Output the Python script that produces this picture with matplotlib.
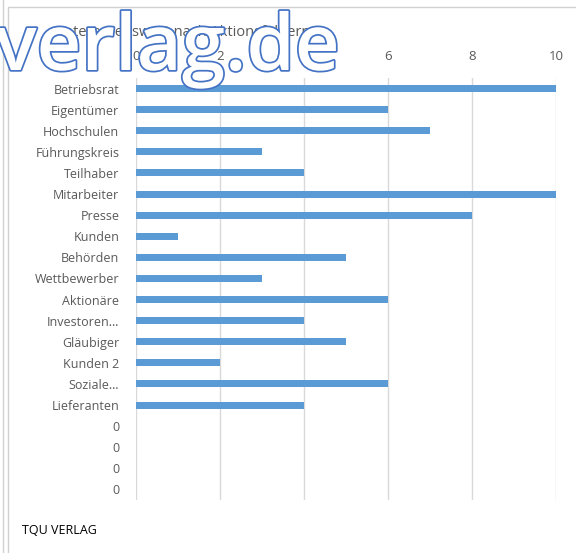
import matplotlib
matplotlib.use("Agg")
import matplotlib.pyplot as plt
import matplotlib.patheffects as pe
from matplotlib.patches import Rectangle

# Daten aus dem Diagramm
kategorien = ["Betriebsrat", "Eigentümer", "Hochschulen", "Führungskreis", "Teilhaber",
              "Mitarbeiter", "Presse", "Kunden", "Behörden", "Wettbewerber", "Aktionäre",
              "Investoren…", "Gläubiger", "Kunden 2", "Soziale…", "Lieferanten",
              "0", "0", "0", "0"]
werte = [10, 6, 7, 3, 4, 10, 8, 1, 5, 3, 6, 4, 5, 2, 6, 4, 0, 0, 0, 0]
x_ticks = [0, 2, 4, 6, 8, 10]

titel = "Interessenswert nach Aktionsfeldern"
fusszeile = "TQU VERLAG"
wasserzeichen = "verlag.de"

plt.rcParams["font.family"] = ["Open Sans", "DejaVu Sans"]

W, H = 576, 553
fig = plt.figure(figsize=(W / 100, H / 100), dpi=100)

# Rahmen um das Diagramm
fig.patches.append(Rectangle((8 / W, -0.1), 1.2, 1 - 7 / H + 0.1, transform=fig.transFigure,
                             fill=False, edgecolor="#d0d0d0", linewidth=1.0))
fig.add_artist(plt.Line2D([3 / W, 3 / W], [0, 1], transform=fig.transFigure,
                          color="#d0d0d0", linewidth=1.0))

ax = fig.add_axes([136 / W, 1 - 500 / H, 420 / W, 422 / H])
y = list(range(len(kategorien)))
ax.barh(y, werte, height=0.33, color="#5b9bd5", zorder=3)
ax.set_ylim(len(kategorien) - 0.5, -0.5)
ax.set_xlim(0, 10)
ax.set_xticks(x_ticks)
ax.set_yticks(y)
ax.set_yticklabels(kategorien)
ax.xaxis.tick_top()
ax.tick_params(axis="x", length=0, pad=10.5, labelsize=9.5, labelcolor="#595959")
ax.tick_params(axis="y", length=0, pad=12, labelsize=9, labelcolor="#595959")
ax.grid(axis="x", color="#d9d9d9", linewidth=1.0, zorder=0)
for s in ax.spines.values():
    s.set_visible(False)

fig.text(60 / W, 1 - 32 / H, titel, fontsize=10.5, color="#595959", va="center", ha="left")
fig.text(22 / W, 1 - 530 / H, fusszeile, fontsize=9, color="black", va="center", ha="left")

wz = fig.text(-5 / W, 1 - 70 / H, wasserzeichen, fontsize=56, fontweight=600,
              color="white", va="baseline", ha="left", zorder=10)
wz.set_path_effects([pe.withStroke(linewidth=2.5, foreground="#4472c4")])

fig.savefig("out.png", dpi=100)
